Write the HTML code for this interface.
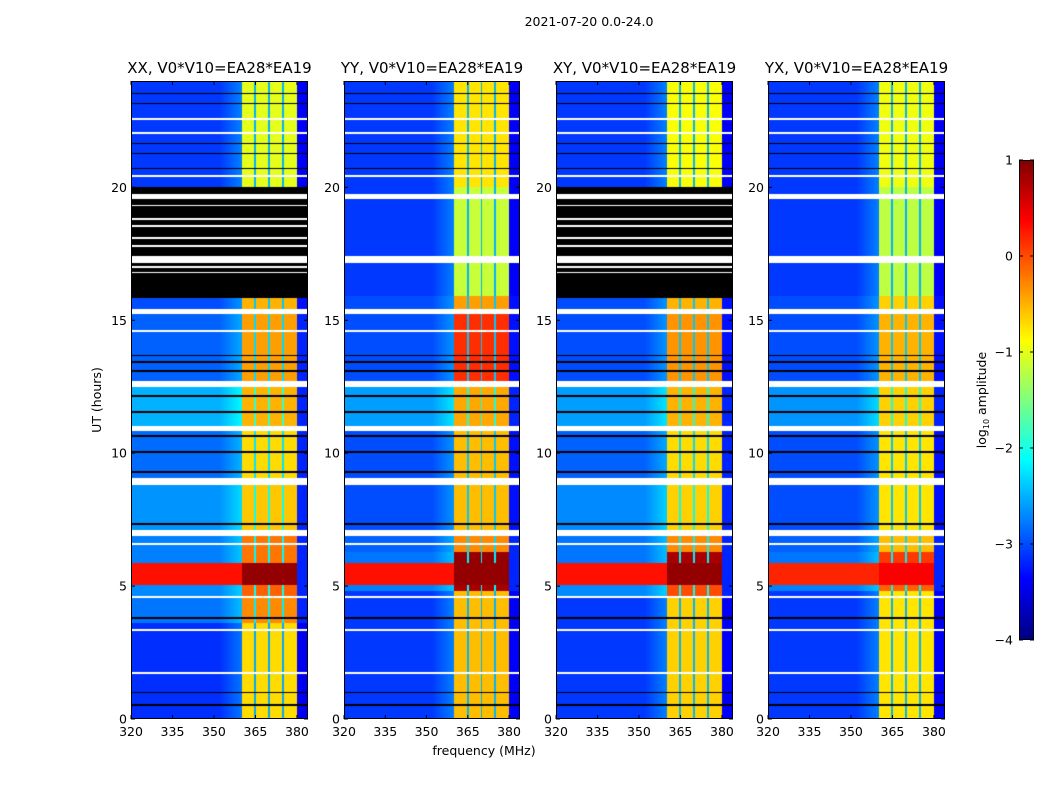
<!DOCTYPE html>
<html><head><meta charset="utf-8">
<style>
body{margin:0;background:#fff;width:1050px;height:800px;overflow:hidden;position:relative;font-family:"DejaVu Sans","Liberation Sans",sans-serif;}
canvas{position:absolute;}
svg{position:absolute;left:0;top:0;}
</style></head>
<body>
<canvas id="c0" width="177" height="638" style="left:131px;top:81px"></canvas>
<canvas id="c1" width="176" height="638" style="left:344px;top:81px"></canvas>
<canvas id="c2" width="177" height="638" style="left:556px;top:81px"></canvas>
<canvas id="c3" width="177" height="638" style="left:768px;top:81px"></canvas>
<canvas id="cb" width="15" height="480" style="left:1019px;top:160px"></canvas>
<svg id="ov" width="1050" height="800"></svg>
<script>
// ---- data ----
const titles = ["XX, V0*V10=EA28*EA19","YY, V0*V10=EA28*EA19","XY, V0*V10=EA28*EA19","YX, V0*V10=EA28*EA19"];
const xTicks = [320,335,350,365,380];
const yTicks = [0,5,10,15,20];
const cbTicks = [1,0,-1,-2,-3,-4];
const bandRange = [360,380];
const bandGaps = [365,370,375];
const whiteRows = [[22.52,22.6],[21.99,22.07],[20.37,20.45],[19.57,19.76],[17.16,17.42],[15.22,15.43],[14.55,14.63],[12.5,12.72],[10.82,11.02],[8.82,9.08],[6.9,7.12],[6.55,6.61],[4.56,4.63],[3.32,3.38],[1.7,1.76]];
const blackRows = [[23.5,23.56],[23.13,23.19],[21.62,21.68],[21.25,21.31],[20.68,20.74],[13.65,13.71],[13.39,13.45],[13.05,13.11],[12.11,12.17],[11.51,11.57],[10.61,10.67],[10.01,10.07],[9.26,9.32],[7.3,7.36],[3.77,3.83],[0.97,1.03],[0.5,0.56]];
const blockRange = [15.85,20.0];
const blockWhite = [[19.28,19.34],[18.78,18.84],[18.52,18.58],[18.07,18.15],[17.77,17.84],[16.97,17.03],[16.77,16.83]];
const hasBlock = [true,false,true,false];
const segXX = [[20,24,-3.1,-1.0],[15.3,15.85,-3.0,-0.5],[12.6,15.3,-2.9,-0.4],[11,12.6,-2.5,-0.5],[9,11,-2.85,-0.7],[7,9,-2.65,-0.6],[5.85,7,-2.75,-0.2],[5.05,5.85,0.3,0.9],[4.6,5.05,-2.7,-0.1],[3.6,4.6,-2.8,-0.3],[0,3.6,-3.15,-0.7]];
const segYY = [[20,24,-3.1,-0.75],[15.9,20,-3.1,-1.15],[15.3,15.9,-3.0,-0.4],[12.6,15.3,-3.0,0.15],[11,12.6,-2.6,-0.45],[7,11,-3.0,-0.55],[6.3,7,-2.9,-0.3],[5.85,6.3,-2.8,0.9],[5.05,5.85,0.3,0.9],[4.8,5.05,-2.75,0.8],[0,4.8,-3.1,-0.55]];
const segXY = [[20,24,-3.1,-0.9],[15.3,15.85,-3.0,-0.5],[12.6,15.3,-3.0,-0.35],[11,12.6,-2.6,-0.5],[9,11,-2.9,-0.7],[7,9,-2.7,-0.65],[6.3,7,-2.8,-0.3],[5.85,6.3,-2.8,0.8],[5.05,5.85,0.3,0.9],[4.6,5.05,-2.7,0.0],[0,4.6,-3.1,-0.65]];
const segYX = [[20,24,-3.1,-0.95],[15.9,20,-3.1,-1.2],[15.3,15.9,-3.0,-0.65],[12.6,15.3,-3.0,-0.5],[11,12.6,-2.65,-0.65],[7,11,-3.0,-0.75],[6.3,7,-2.9,-0.55],[5.85,6.3,-2.8,0.1],[5.05,5.85,0.2,0.4],[4.8,5.05,-2.75,-0.1],[0,4.8,-3.1,-0.75]];
const segs = [segXX,segYY,segXY,segYX];
const fMin=320, fMax=384, tMin=0, tMax=24, vMin=-4, vMax=1;

function jet(v){
  let f=(v-vMin)/(vMax-vMin); f=Math.max(0,Math.min(1,f));
  const c=x=>Math.max(0,Math.min(1,x));
  return [c(1.5-Math.abs(4*f-3))*255,c(1.5-Math.abs(4*f-2))*255,c(1.5-Math.abs(4*f-1))*255];
}
function inR(t,list){for(const r of list){if(t>=r[0]&&t<r[1])return true;}return false;}

function drawPanel(i){
  const cv=document.getElementById('c'+i), ctx=cv.getContext('2d');
  const W=cv.width,H=cv.height, img=ctx.createImageData(W,H);
  const pf=px=>fMin+(px+0.5)/W*(fMax-fMin);
  const pt=py=>tMax-(py+0.5)/H*(tMax-tMin);
  for(let y=0;y<H;y++){
    const t=pt(y);
    let rgb=null;
    if(inR(t,whiteRows)) rgb=[255,255,255];
    else if(hasBlock[i]&&inR(t,blockWhite)) rgb=[255,255,255];
    else if(hasBlock[i]&&t>=blockRange[0]&&t<blockRange[1]) rgb=[0,0,0];
    else if(inR(t,blackRows)) rgb=[0,0,0];
    const seg=segs[i].find(s=>t>=s[0]&&t<s[1])||segs[i][0];
    for(let x=0;x<W;x++){
      let c=rgb;
      if(!c){
        const f=pf(x); let v;
        if(f>=bandRange[0]&&f<bandRange[1]){
          v=seg[3];
          for(const g of bandGaps){if(Math.abs(f-g)<0.35)v=Math.min(v,seg[2]+0.6);}
        } else if(f>=bandRange[1]) v=Math.min(seg[2]-0.3,-3.2);
        else { v=seg[2]; if(f>352&&seg[2]<0) v+=(f-352)/8*0.35; }
        c=jet(v);
      }
      const k=(y*W+x)*4; img.data[k]=c[0];img.data[k+1]=c[1];img.data[k+2]=c[2];img.data[k+3]=255;
    }
  }
  ctx.putImageData(img,0,0);
}
for(let i=0;i<4;i++) drawPanel(i);
(function(){const cv=document.getElementById('cb'),ctx=cv.getContext('2d');
 for(let y=0;y<480;y++){const v=vMax-(y+0.5)/480*(vMax-vMin);const c=jet(v);ctx.fillStyle=`rgb(${c[0]|0},${c[1]|0},${c[2]|0})`;ctx.fillRect(0,y,15,1);} })();

// ---- overlay ----
const NS="http://www.w3.org/2000/svg", ov=document.getElementById('ov');
function mk(tag,attrs,txt){const e=document.createElementNS(NS,tag);for(const k in attrs)e.setAttribute(k,attrs[k]);if(txt!==undefined)e.textContent=txt;ov.appendChild(e);return e;}
const panelX=[131,344,556,768], panelW=[177,176,177,177], pTop=81, pBot=719;
const fmt=v=>v<0?'\u2212'+(-v):String(v);
for(let i=0;i<4;i++){
  const x0=panelX[i],w=panelW[i];
  const xs=f=>x0+(f-fMin)/(fMax-fMin)*w;
  const ys=t=>pBot-(t-tMin)/(tMax-tMin)*(pBot-pTop);
  const fr=mk('rect',{x:x0+0.5,y:pTop+0.5,width:w-1,height:pBot-pTop-1,fill:'none',stroke:'#000','stroke-width':1});
  
  
  const tt=mk('text',{x:x0+w/2,y:73,'font-size':15,'text-anchor':'middle'},titles[i]);
  
  
  for(const f of xTicks){
    const x=xs(f);
    mk('line',{x1:x,x2:x,y1:pBot,y2:pBot-4,stroke:'#000'});
    mk('line',{x1:x,x2:x,y1:pTop,y2:pTop+4,stroke:'#000'});
    const l=mk('text',{x:x,y:pBot+17,'font-size':12.5,'text-anchor':'middle'},String(f));
    
    
  }
  for(const t of yTicks){
    const y=ys(t);
    mk('line',{x1:x0,x2:x0+4,y1:y,y2:y,stroke:'#000'});
    mk('line',{x1:x0+w,x2:x0+w-4,y1:y,y2:y,stroke:'#000'});
    const l=mk('text',{x:x0-4,y:y+4.5,'font-size':12.5,'text-anchor':'end'},String(t));
    
    
  }
}
const st=mk('text',{x:589,y:26,'font-size':12.5,'text-anchor':'middle'},'2021-07-20 0.0-24.0');


const yl=mk('text',{x:101,y:400,'font-size':12.5,'text-anchor':'middle',transform:'rotate(-90 101 400)'},'UT (hours)');


const xl=mk('text',{x:484,y:755,'font-size':12.5,'text-anchor':'middle'},'frequency (MHz)');


const cf=mk('rect',{x:1019.5,y:160.5,width:14,height:479,fill:'none',stroke:'#000'});


for(const v of cbTicks){
  const y=160+(vMax-v)/(vMax-vMin)*480;
  mk('line',{x1:1019,x2:1023,y1:y,y2:y,stroke:'#000'});
  mk('line',{x1:1030,x2:1034,y1:y,y2:y,stroke:'#000'});
  const l=mk('text',{x:1013,y:y+4.5,'font-size':12.5,'text-anchor':'end'},fmt(v));
  
  
}
const cl=mk('text',{x:986,y:400,'font-size':12.5,'text-anchor':'middle',transform:'rotate(-90 986 400)'});


cl.innerHTML='log<tspan font-size="8" dy="3">10</tspan><tspan dy="-3"> amplitude</tspan>';
</script>
</body></html>
